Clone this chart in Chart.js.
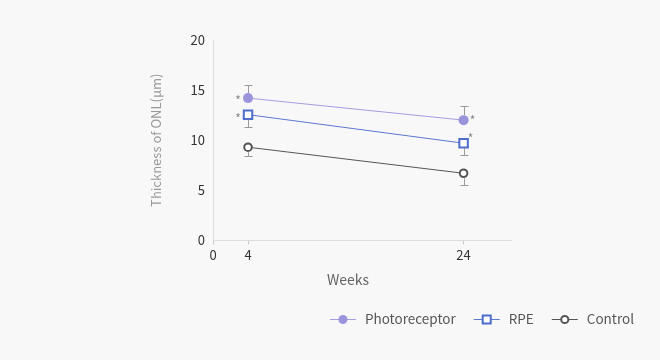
<!DOCTYPE html>
<html>
<head>
<meta charset="utf-8">
<script src="https://cdn.jsdelivr.net/npm/chart.js@4.4.1/dist/chart.umd.min.js"></script>
<style>
  html, body { margin: 0; padding: 0; background: #f8f8f8; }
  #wrap { width: 660px; height: 360px; }
</style>
</head>
<body>
<div id="wrap"><canvas id="chart" width="660" height="360"></canvas></div>
<script>
// --- Data ---
const weeks = [4, 24];
const xTicks = [4, 24];
const xOriginLabel = "0";
const xTitle = "Weeks";
const seriesNames = ["Photoreceptor", "RPE", "Control"];
const photoValues = [14.2, 12.0];
const rpeValues = [12.55, 9.7];
const controlValues = [9.3, 6.7];
// error bar ends (upper for Photoreceptor, lower for the others)
const photoErrHigh = [15.5, 13.45];
const rpeErrLow = [11.3, 8.5];
const controlErrLow = [8.4, 5.5];
// significance marks
const photoSig = [true, true];
const rpeSig = [true, true];
const controlSig = [false, false];

const FONT = '"Noto Sans CJK KR", "Noto Sans", sans-serif';

function toPoints(vals) {
  return weeks.map((w, i) => ({ x: w, y: vals[i] }));
}

// --- legend icon drawers (line with marker in the middle) ---
function iconPhoto(g, cx, cy) {
  g.strokeStyle = "#a39de2"; g.lineWidth = 1;
  g.beginPath(); g.moveTo(cx - 13, cy + 0.5); g.lineTo(cx + 13, cy + 0.5); g.stroke();
  g.fillStyle = "#9a94dc";
  g.beginPath(); g.arc(cx, cy + 0.5, 4.5, 0, Math.PI * 2); g.fill();
}
function iconRpe(g, cx, cy) {
  g.strokeStyle = "#5a78d2"; g.lineWidth = 1;
  g.beginPath(); g.moveTo(cx - 13, cy + 0.5); g.lineTo(cx + 13, cy + 0.5); g.stroke();
  g.fillStyle = "#fff"; g.strokeStyle = "#4d6ccb"; g.lineWidth = 2;
  g.fillRect(cx - 4, cy - 3.5, 8, 8); g.strokeRect(cx - 4, cy - 3.5, 8, 8);
}
function iconCtrl(g, cx, cy) {
  g.strokeStyle = "#555"; g.lineWidth = 1;
  g.beginPath(); g.moveTo(cx - 13, cy + 0.5); g.lineTo(cx + 13, cy + 0.5); g.stroke();
  g.fillStyle = "#fff"; g.strokeStyle = "#555"; g.lineWidth = 2;
  g.beginPath(); g.arc(cx, cy + 0.5, 3.6, 0, Math.PI * 2); g.fill(); g.stroke();
}

// --- Error bars, asterisks, x title and legend ---
const extras = {
  id: "extras",
  afterDatasetsDraw(chart) {
    const ctx = chart.ctx;
    const xs = chart.scales.x, ys = chart.scales.y;
    chart.data.datasets.forEach(ds => {
      ctx.save();
      ctx.strokeStyle = "#9a9a9a";
      ctx.lineWidth = 1;
      ds.errEnds.forEach((e, i) => {
        const px = Math.round(xs.getPixelForValue(weeks[i])) + 0.5;
        const y0 = ys.getPixelForValue(ds.data[i].y);
        const y1 = Math.round(ys.getPixelForValue(e)) + 0.5;
        const start = y1 < y0 ? y0 - ds.markR : y0 + ds.markR;
        ctx.beginPath();
        ctx.moveTo(px, start); ctx.lineTo(px, y1);
        ctx.moveTo(px - 4, y1); ctx.lineTo(px + 4, y1);
        ctx.stroke();
      });
      ctx.fillStyle = "#888";
      ctx.font = "12px " + FONT;
      ctx.textAlign = "center";
      ctx.textBaseline = "middle";
      ds.sig.forEach((s, i) => {
        if (!s) return;
        const off = ds.sigOffset[i];
        const px = xs.getPixelForValue(weeks[i]) + off[0];
        const py = ys.getPixelForValue(ds.data[i].y) + off[1];
        ctx.fillText("*", px, py);
      });
      ctx.restore();
    });
  },
  afterDraw(chart) {
    const ctx = chart.ctx;
    ctx.save();
    // x axis title (sits left of the axis centre in the original)
    ctx.font = "14px " + FONT;
    ctx.fillStyle = "#666";
    ctx.textAlign = "center";
    ctx.textBaseline = "middle";
    ctx.fillText(xTitle, chart.chartArea.left + 135, chart.chartArea.bottom + 39);

    // legend, right aligned under the chart
    ctx.font = "13.5px " + FONT;
    ctx.textAlign = "left";
    const y = 319;
    const iconW = 26, gap = 9, spacing = 18;
    const items = chart.data.datasets.map(ds => ({ text: ds.label, draw: ds.legendIcon, w: ctx.measureText(ds.label).width }));
    let total = 0;
    items.forEach((it, i) => { total += iconW + gap + it.w + (i ? spacing : 0); });
    let x = 634 - total;
    items.forEach(it => {
      it.draw(ctx, x + iconW / 2, y);
      ctx.fillStyle = "#555";
      ctx.fillText(it.text, x + iconW + gap, y);
      x += iconW + gap + it.w + spacing;
    });
    ctx.restore();
  }
};

const chart = new Chart(document.getElementById("chart"), {
  type: "line",
  data: {
    datasets: [
      {
        label: seriesNames[0],
        data: toPoints(photoValues),
        borderColor: "#a39de2",
        borderWidth: 1,
        pointStyle: "circle",
        pointRadius: 5,
        pointBackgroundColor: "#9a94dc",
        pointBorderColor: "#9a94dc",
        pointBorderWidth: 0,
        errEnds: photoErrHigh,
        markR: 5,
        sig: photoSig,
        sigOffset: [[-10, 2], [9, 0]],
        legendIcon: iconPhoto
      },
      {
        label: seriesNames[1],
        data: toPoints(rpeValues),
        borderColor: "#5a78d2",
        borderWidth: 1,
        pointStyle: "rect",
        pointRadius: 6,
        pointBackgroundColor: "#fff",
        pointBorderColor: "#4d6ccb",
        pointBorderWidth: 2,
        errEnds: rpeErrLow,
        markR: 5,
        sig: rpeSig,
        sigOffset: [[-10, 4], [7, -5]],
        legendIcon: iconRpe
      },
      {
        label: seriesNames[2],
        data: toPoints(controlValues),
        borderColor: "#555",
        borderWidth: 1,
        pointStyle: "circle",
        pointRadius: 3.8,
        pointBackgroundColor: "#fff",
        pointBorderColor: "#555",
        pointBorderWidth: 2,
        errEnds: controlErrLow,
        markR: 5,
        sig: controlSig,
        sigOffset: [[0, 0], [0, 0]],
        legendIcon: iconCtrl
      }
    ]
  },
  options: {
    responsive: false,
    animation: false,
    layout: { padding: { left: 144, right: 149, top: 40, bottom: 94 } },
    plugins: {
      tooltip: { enabled: false },
      legend: { display: false }
    },
    scales: {
      x: {
        type: "linear",
        min: 0.75,
        max: 28.4,
        afterBuildTicks(scale) {
          scale.ticks = [{ value: scale.min }].concat(xTicks.map(v => ({ value: v })));
        },
        grid: { drawOnChartArea: false, drawTicks: true, tickLength: 4, color: "#c8c8c8" },
        border: { color: "#dddddd" },
        ticks: {
          color: "#333",
          font: { family: FONT, size: 13 },
          padding: 3,
          maxRotation: 0,
          callback: (v, i) => (i === 0 ? xOriginLabel : v)
        },
        title: { display: false }
      },
      y: {
        min: 0,
        max: 20,
        afterFit(scale) { scale.width = 69; },
        grid: { drawOnChartArea: false, drawTicks: false },
        border: { color: "#dddddd" },
        ticks: { stepSize: 5, color: "#333", font: { family: FONT, size: 13 }, padding: 8 },
        title: {
          display: true,
          text: "Thickness of ONL(\u03bcm)",
          color: "#999",
          font: { family: FONT, size: 13 },
          padding: { top: 4, bottom: 0 }
        }
      }
    }
  },
  plugins: [extras]
});
</script>
</body>
</html>
